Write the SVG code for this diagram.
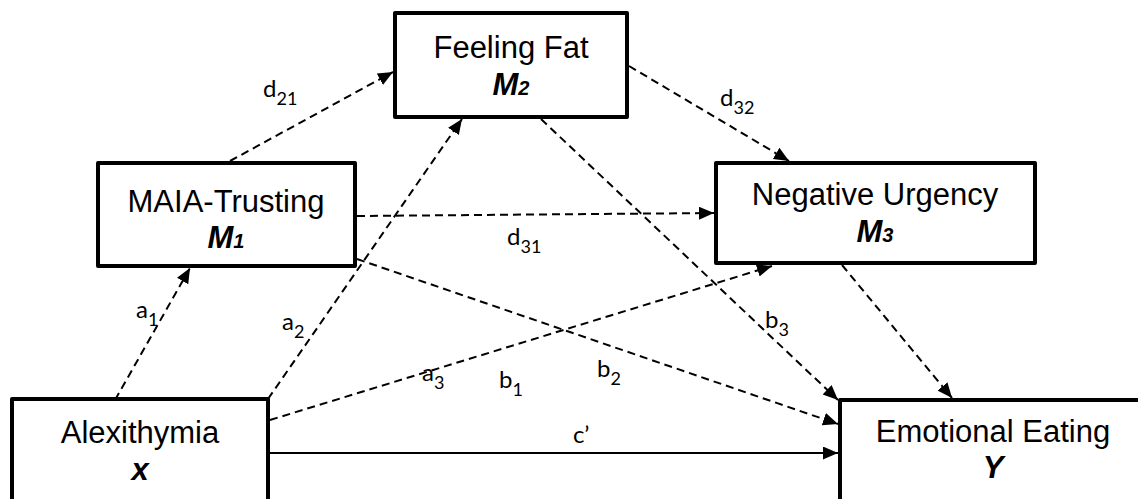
<svg xmlns="http://www.w3.org/2000/svg" width="1138" height="499" viewBox="0 0 1138 499">
<style>
.box{fill:#fff;stroke:#000;stroke-width:4;stroke-linejoin:round}
.t{font-family:"Liberation Sans",Arial,sans-serif;font-size:31px;fill:#000;text-anchor:middle}
.m{font-family:"Liberation Sans",Arial,sans-serif;font-size:31px;font-weight:bold;font-style:italic;fill:#000;text-anchor:middle}
.sub{font-size:20px}
.c{fill:none;stroke:#000;stroke-width:2;stroke-dasharray:8,5;marker-end:url(#ah)}
.s{fill:none;stroke:#000;stroke-width:2;marker-end:url(#ah)}
.l{font-family:Lato,"Open Sans",sans-serif;font-size:24px;fill:#000}
.ls{font-size:18px}
</style>
<defs>
<marker id="ah" markerUnits="userSpaceOnUse" markerWidth="16" markerHeight="14" refX="15" refY="6.5" orient="auto">
<path d="M0,0 L15,6.5 L0,13 z" fill="#000"/>
</marker>
</defs>
<g id="connectors">
<line class="c" x1="115" y1="400" x2="190" y2="268"/>
<line class="c" x1="268" y1="399" x2="462" y2="119"/>
<line class="c" x1="270" y1="420" x2="772" y2="266"/>
<line class="c" x1="230" y1="161" x2="393" y2="72"/>
<line class="c" x1="357" y1="216" x2="714" y2="213"/>
<line class="c" x1="629" y1="66" x2="789" y2="161"/>
<line class="c" x1="357" y1="259" x2="838" y2="424"/>
<line class="c" x1="541" y1="119" x2="838" y2="400"/>
<line class="c" x1="842" y1="265" x2="952" y2="398"/>
<line class="s" x1="270" y1="453" x2="838" y2="453"/>
</g>
<g id="labels">
<text class="l" x="263" y="97">d<tspan class="ls" dy="8">21</tspan></text>
<text class="l" x="720" y="106">d<tspan class="ls" dy="8">32</tspan></text>
<text class="l" x="507" y="245">d<tspan class="ls" dy="8">31</tspan></text>
<text class="l" x="136" y="318">a<tspan class="ls" dy="8">1</tspan></text>
<text class="l" x="282" y="330">a<tspan class="ls" dy="8">2</tspan></text>
<text class="l" x="422" y="381">a<tspan class="ls" dy="8">3</tspan></text>
<text class="l" x="499" y="388">b<tspan class="ls" dy="8">1</tspan></text>
<text class="l" x="597" y="377">b<tspan class="ls" dy="8">2</tspan></text>
<text class="l" x="765" y="328">b<tspan class="ls" dy="8">3</tspan></text>
<text class="l" x="573" y="443">c’</text>
</g>
<g id="node-feelingfat">
<rect class="box" x="395" y="13" width="232" height="104"/>
<text class="t" x="511" y="58">Feeling Fat</text>
<text class="m" x="511" y="95">M<tspan class="sub">2</tspan></text>
</g>
<g id="node-maia">
<rect class="box" x="98" y="163" width="257" height="103"/>
<text class="t" x="226" y="212">MAIA-Trusting</text>
<text class="m" x="226" y="248">M<tspan class="sub">1</tspan></text>
</g>
<g id="node-negurgency">
<rect class="box" x="716" y="163" width="319" height="100"/>
<text class="t" x="875" y="205">Negative Urgency</text>
<text class="m" x="875" y="242">M<tspan class="sub">3</tspan></text>
</g>
<g id="node-alexithymia">
<rect class="box" x="12" y="399" width="256" height="110"/>
<text class="t" x="140" y="443">Alexithymia</text>
<text class="m" x="140" y="480">x</text>
</g>
<g id="node-emotional">
<rect class="box" x="840" y="400" width="310" height="110"/>
<text class="t" x="993" y="442">Emotional Eating</text>
<text class="m" x="993" y="478">Y</text>
</g>
</svg>
